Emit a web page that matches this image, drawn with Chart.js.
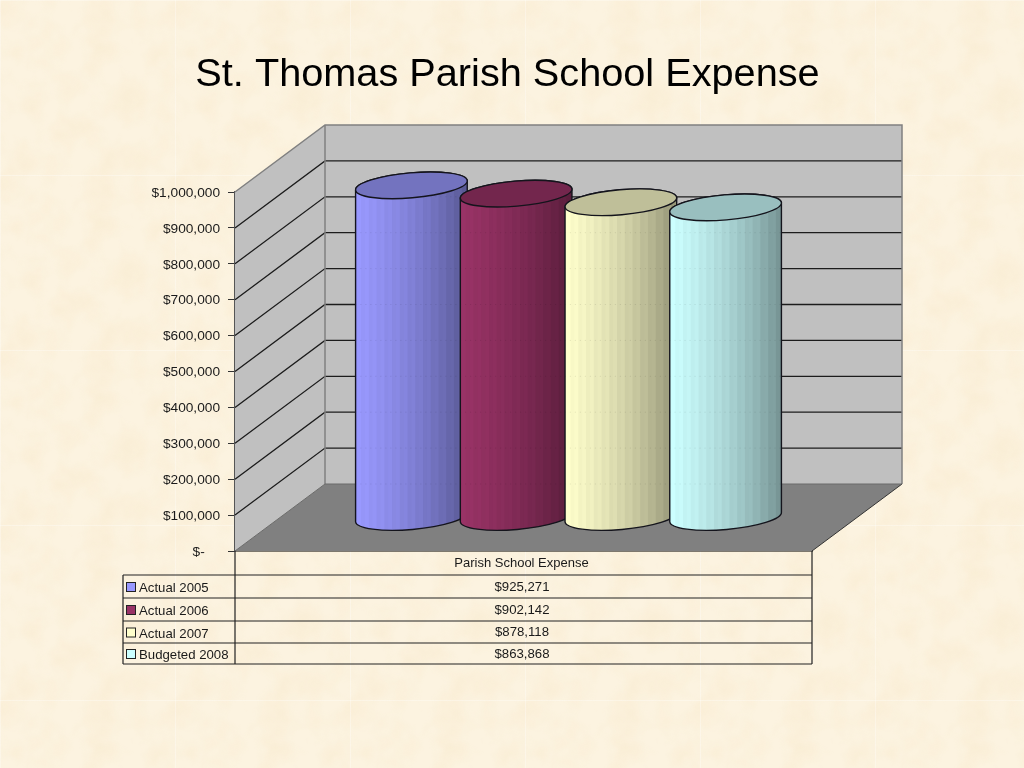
<!DOCTYPE html>
<html>
<head>
<meta charset="utf-8">
<title>St. Thomas Parish School Expense</title>
<script src="https://cdn.jsdelivr.net/npm/chart.js@4"></script>
<style>
  html, body { margin: 0; padding: 0; width: 1024px; height: 768px; overflow: hidden; }
  /* parchment slide background, tiled like the original */
  body {
    background-color: #fcf3e0;
    background-image: url("data:image/svg+xml,%3Csvg xmlns='http://www.w3.org/2000/svg' width='175' height='175'%3E%3Cfilter id='n' x='0' y='0' width='100%25' height='100%25'%3E%3CfeTurbulence type='fractalNoise' baseFrequency='0.035' numOctaves='3' seed='4' stitchTiles='stitch'/%3E%3CfeColorMatrix values='0 0 0 0 .93 0 0 0 0 .80 0 0 0 0 .58 .8 0 0 0 -.28'/%3E%3C/filter%3E%3Crect width='175' height='175' filter='url(%23n)'/%3E%3Cpath d='M.5 0V175M0 .5H175' stroke='%23fff' stroke-opacity='.3'/%3E%3C/svg%3E");
  }
  canvas { display: block; }
</style>
</head>
<body>
<canvas id="chart" width="1024" height="768"></canvas>
<script>
const categories = ['Parish School Expense'];
const seriesNames = ['Actual 2005', 'Actual 2006', 'Actual 2007', 'Budgeted 2008'];
const seriesValues = [925271, 902142, 878118, 863868];
const valueLabels = ['$925,271', '$902,142', '$878,118', '$863,868'];
const seriesColors = ['#9999ff', '#993366', '#ffffcc', '#ccffff'];
const yTickLabels = ['$-', '$100,000', '$200,000', '$300,000', '$400,000', '$500,000',
  '$600,000', '$700,000', '$800,000', '$900,000', '$1,000,000'];
const chartTitle = 'St. Thomas Parish School Expense';

// 3D box offset from front axis to back wall, bars stand half way in
const DEPTH_X = 90, DEPTH_Y = 67;
const FONT = '"Liberation Sans", Arial, sans-serif';
const TABLE_LEFT = 123;
const rowLines = [575, 598, 621, 643, 664];

const shade = (hex, k) => {
  const n = parseInt(hex.slice(1), 16);
  return `rgb(${Math.round((n >> 16) * k)},${Math.round(((n >> 8) & 255) * k)},${Math.round((n & 255) * k)})`;
};

// one cylinder from the library's own bar geometry
const drawCylinder = (chart, bar, color) => {
  const { ctx, scales: { y } } = chart;
  const cx = bar.x + DEPTH_X / 2;
  const top = bar.y - DEPTH_Y / 2, base = bar.base - DEPTH_Y / 2;
  const rx = bar.width / 2, ry = 12.5, tilt = -0.085;
  const body = new Path2D();
  body.ellipse(cx, base, rx, ry, tilt, 0, Math.PI);
  body.ellipse(cx, top, rx, ry, tilt, Math.PI, Math.PI * 2);
  body.closePath();
  const cap = new Path2D();
  cap.ellipse(cx, top, rx, ry, tilt, 0, Math.PI * 2);

  ctx.save();
  ctx.save();
  ctx.clip(body);
  const bands = 30;
  for (let i = 0; i < bands; i++) {
    const t = i / (bands - 1);
    const k = 1 - 0.42 * t * (0.55 + 0.45 * t) + (i % 2 ? 0.012 : -0.012);
    ctx.fillStyle = shade(color, Math.min(k, 1));
    ctx.fillRect(cx - rx - 2 + i * (bar.width + 4) / bands, top - ry - 2,
      (bar.width + 4) / bands + 1, base - top + 2 * ry + 4);
  }
  // the wall lines show faintly through the bar
  ctx.strokeStyle = 'rgba(0,0,0,0.1)';
  ctx.lineWidth = 1;
  ctx.setLineDash([1, 4]);
  y.ticks.forEach(t => {
    const py = y.getPixelForValue(t.value) - DEPTH_Y;
    ctx.beginPath();
    ctx.moveTo(cx - rx, py); ctx.lineTo(cx + rx, py);
    ctx.stroke();
  });
  ctx.restore();
  ctx.strokeStyle = '#14141c';
  ctx.lineWidth = 1.4;
  ctx.stroke(body);
  ctx.fillStyle = shade(color, 0.75);
  ctx.fill(cap);
  ctx.stroke(cap);
  ctx.restore();
};

const box3d = {
  id: 'box3d',
  // walls, floor and wall gridlines
  beforeDatasetsDraw(chart) {
    const { ctx, chartArea: a, scales: { y } } = chart;
    const bx = a.left + DEPTH_X, by = a.top - DEPTH_Y, bb = a.bottom - DEPTH_Y, br = a.right + DEPTH_X;
    ctx.save();
    ctx.fillStyle = '#c0c0c0';
    ctx.fillRect(bx, by, br - bx, bb - by);
    ctx.beginPath();
    ctx.moveTo(a.left, a.top); ctx.lineTo(bx, by); ctx.lineTo(bx, bb); ctx.lineTo(a.left, a.bottom);
    ctx.closePath();
    ctx.fill();

    ctx.strokeStyle = '#1c1c1c';
    ctx.lineWidth = 1.3;
    y.ticks.forEach(t => {
      if (t.value === 0 || t.value === y.max) return;
      const py = y.getPixelForValue(t.value);
      ctx.beginPath();
      ctx.moveTo(a.left, py); ctx.lineTo(bx, py - DEPTH_Y); ctx.lineTo(br, py - DEPTH_Y);
      ctx.stroke();
    });

    ctx.strokeStyle = '#808080';
    ctx.lineWidth = 1.5;
    ctx.beginPath();
    ctx.moveTo(a.left, a.top); ctx.lineTo(bx, by); ctx.lineTo(br, by); ctx.lineTo(br, bb);
    ctx.moveTo(bx, by); ctx.lineTo(bx, bb);
    ctx.stroke();

    ctx.fillStyle = '#808080';
    ctx.beginPath();
    ctx.moveTo(a.left, a.bottom); ctx.lineTo(bx, bb); ctx.lineTo(br, bb); ctx.lineTo(a.right, a.bottom);
    ctx.closePath();
    ctx.fill();
    ctx.strokeStyle = '#333';
    ctx.lineWidth = 1;
    ctx.beginPath();
    ctx.moveTo(a.right, a.bottom); ctx.lineTo(br, bb);
    ctx.stroke();
    ctx.strokeStyle = '#6a6a6a';
    ctx.beginPath();
    ctx.moveTo(a.left, a.bottom); ctx.lineTo(bx, bb); ctx.lineTo(br, bb);
    ctx.stroke();
    ctx.restore();
  },
  // plain bars are replaced by the cylinders below
  beforeDatasetDraw() {
    return false;
  },
  // left to right, each bar overlaps the one before it
  afterDatasetsDraw(chart) {
    seriesNames.forEach((name, i) => {
      chart.getDatasetMeta(i).data.forEach(bar => drawCylinder(chart, bar, seriesColors[i]));
    });
  },
  // title plus the data table under the axis, legend keys in its first column
  afterDraw(chart) {
    const { ctx, chartArea: a, scales: { x } } = chart;
    const cx = x.getPixelForValue(0) - 1.5;
    ctx.save();
    ctx.fillStyle = '#000';
    ctx.font = '39.7px ' + FONT;
    ctx.textAlign = 'center';
    ctx.textBaseline = 'middle';
    ctx.fillText(chartTitle, 507.5, 75.5);

    ctx.strokeStyle = '#222';
    ctx.lineWidth = 1.2;
    ctx.beginPath();
    ctx.moveTo(a.left, a.bottom); ctx.lineTo(a.left, rowLines[4]);
    ctx.moveTo(a.right, a.bottom); ctx.lineTo(a.right, rowLines[4]);
    ctx.moveTo(TABLE_LEFT, rowLines[0]); ctx.lineTo(TABLE_LEFT, rowLines[4]);
    rowLines.forEach(ly => { ctx.moveTo(TABLE_LEFT, ly); ctx.lineTo(a.right, ly); });
    ctx.stroke();
    ctx.font = '13.2px ' + FONT;
    seriesNames.forEach((name, i) => {
      const mid = (rowLines[i] + rowLines[i + 1]) / 2;
      ctx.fillStyle = seriesColors[i];
      ctx.fillRect(126.5, mid - 4, 9, 9);
      ctx.strokeStyle = '#222';
      ctx.lineWidth = 1;
      ctx.strokeRect(126.5, mid - 4, 9, 9);
      ctx.fillStyle = '#1a1a1a';
      ctx.textAlign = 'left';
      ctx.fillText(name, 139, mid + 2);
      ctx.textAlign = 'center';
      ctx.fillText(valueLabels[i], cx, mid + 0.5);
    });
    ctx.restore();
  }
};

const chart = new Chart(document.getElementById('chart'), {
  type: 'bar',
  data: {
    labels: categories,
    datasets: seriesNames.map((name, i) => ({
      label: name,
      data: [seriesValues[i]],
      backgroundColor: seriesColors[i]
    }))
  },
  options: {
    responsive: false,
    animation: false,
    devicePixelRatio: 1,
    categoryPercentage: 0.726,
    barPercentage: 1.07,
    layout: { padding: { left: 0, top: 192, right: 212, bottom: 193 } },
    plugins: {
      legend: { display: false },
      tooltip: { enabled: false },
      title: { display: false }
    },
    scales: {
      x: {
        afterFit: s => { s.height = 24; },
        grid: { display: false, drawTicks: false, tickLength: 0 },
        border: { color: '#000', width: 1.5 },
        ticks: {
          color: '#1a1a1a',
          padding: 5,
          labelOffset: -2,
          font: { family: FONT, size: 13 }
        }
      },
      y: {
        min: 0,
        max: 1000000,
        afterFit: s => { s.width = 235; },
        grid: { drawOnChartArea: false, drawTicks: true, tickLength: 7, color: '#333' },
        border: { color: '#555', width: 1.2 },
        ticks: {
          stepSize: 100000,
          color: '#1a1a1a',
          padding: 8,
          labelOffset: 1,
          font: { family: FONT, size: 13.7 },
          callback: (v, i) => (v === 0 ? yTickLabels[i] + '    ' : yTickLabels[i])
        }
      }
    }
  },
  plugins: [box3d]
});
</script>
</body>
</html>
